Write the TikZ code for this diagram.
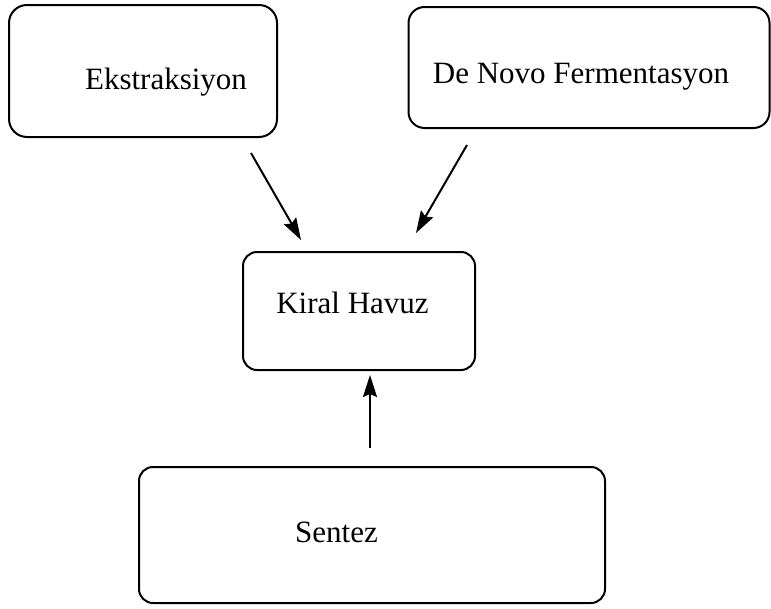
\documentclass[tikz,border=0pt]{standalone}
\usepackage{fontspec}
\setmainfont{Liberation Serif}
\usetikzlibrary{arrows.meta}

\begin{document}
\begin{tikzpicture}[x=1pt, y=-1pt,
  box/.style={draw, line width=2pt, rounded corners=16pt},
  lbl/.style={inner sep=0pt, anchor=base, font=\fontsize{31}{37}\selectfont},
  flow/.style={-{Stealth[length=22pt, width=14pt, inset=3pt]}, line width=2pt}]
  \useasboundingbox (0,0) rectangle (771,608);
  % Row 1: sources
  \node[box, minimum width=268pt, minimum height=132pt, rounded corners=18pt] (extbox) at (143,71) {};
  \node[lbl] (ext) at (166,89) {Ekstraksiyon};
  \node[box, minimum width=361pt, minimum height=121pt] (ferbox) at (589,67.5) {};
  \node[lbl] (fer) at (581,83) {De Novo Fermentasyon};
  % Row 2: pool
  \node[box, minimum width=232pt, minimum height=118pt, rounded corners=14pt] (poolbox) at (359,311) {};
  \node[lbl] (pool) at (352.5,313) {Kiral Havuz};
  % Row 3: synthesis
  \node[box, minimum width=466pt, minimum height=136pt, rounded corners=14pt] (synbox) at (372,535) {};
  \node[lbl] (syn) at (336.5,542) {Sentez};

  % Arrow ends
  \coordinate (extout) at (251,153);  \coordinate (poolinl) at (301,240);
  \coordinate (ferout) at (467,145);  \coordinate (poolinr) at (416,233);
  \coordinate (synout) at (370,448);  \coordinate (poolinb) at (370,375);

  % Connections
  \draw[flow] (extout) -- (poolinl);
  \draw[flow] (ferout) -- (poolinr);
  \draw[flow] (synout) -- (poolinb);
\end{tikzpicture}
\end{document}
